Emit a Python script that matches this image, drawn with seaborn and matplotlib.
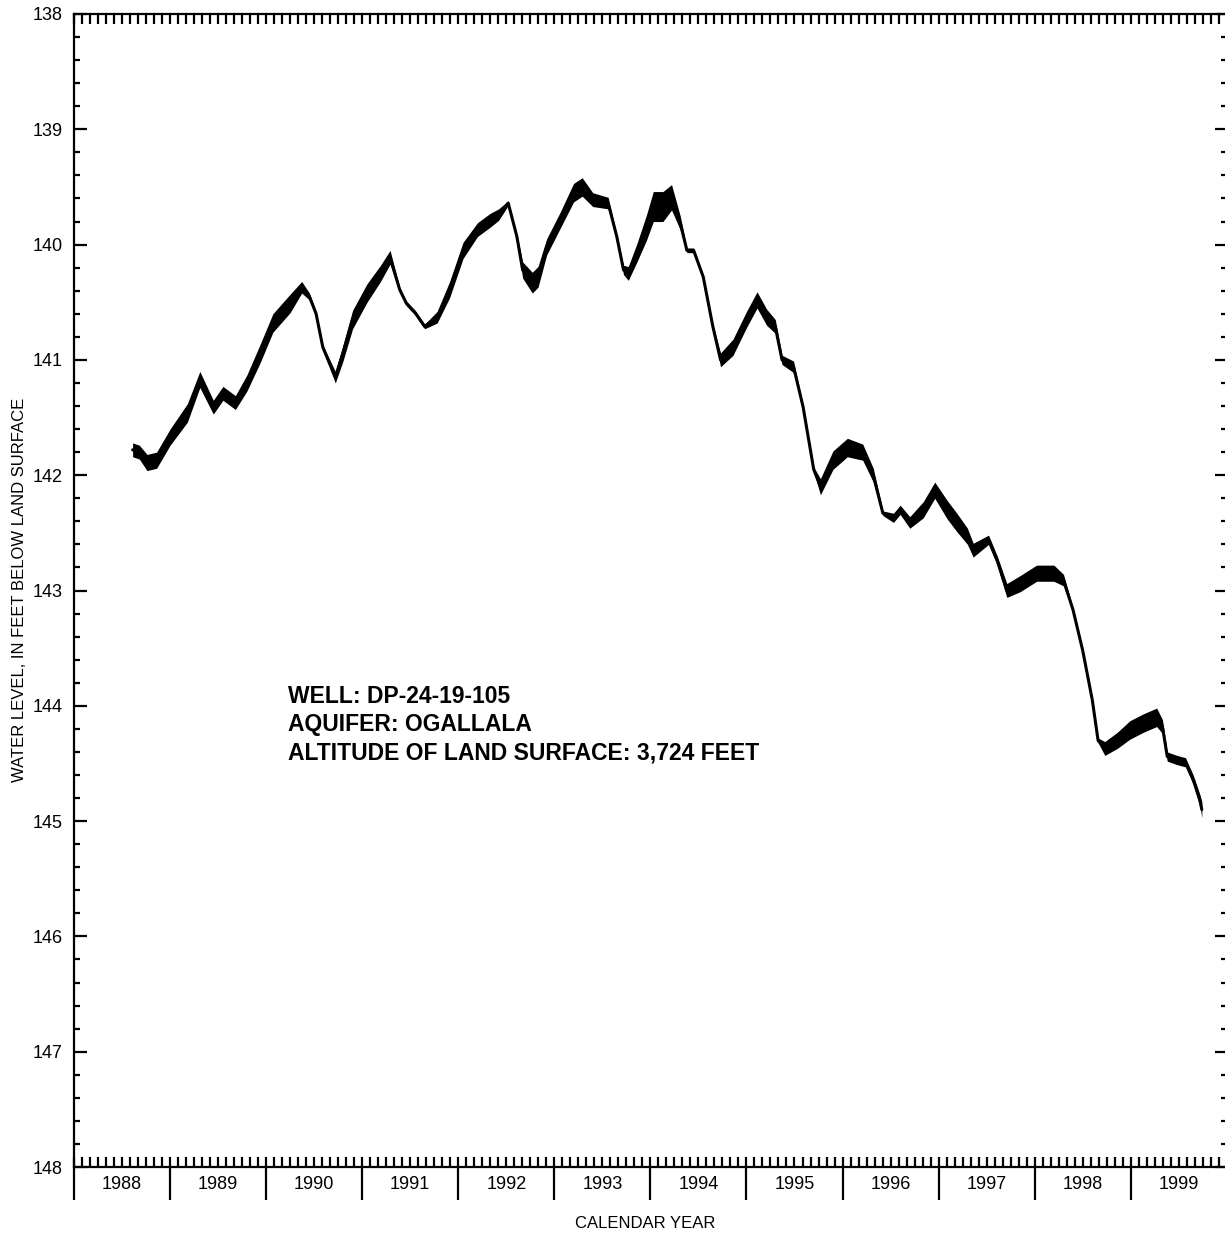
import numpy as np
import matplotlib
matplotlib.use("Agg")
import matplotlib.pyplot as plt
import matplotlib.transforms as mtransforms
import seaborn as sns

YEARS = [1988.61, 1988.68, 1988.76, 1988.86, 1989.00, 1989.18, 1989.31, 1989.45,
         1989.55, 1989.68, 1989.80, 1989.94, 1990.07, 1990.25, 1990.37, 1990.45,
         1990.52, 1990.59, 1990.72, 1990.80, 1990.90, 1991.05, 1991.19, 1991.29,
         1991.39, 1991.46, 1991.55, 1991.65, 1991.78, 1991.91, 1992.05, 1992.20,
         1992.33, 1992.42, 1992.52, 1992.61, 1992.67, 1992.77, 1992.83, 1992.92,
         1993.06, 1993.20, 1993.29, 1993.40, 1993.56, 1993.65, 1993.72, 1993.77,
         1993.86, 1993.96, 1994.03, 1994.13, 1994.22, 1994.31, 1994.38, 1994.45,
         1994.55, 1994.65, 1994.73, 1994.86, 1995.00, 1995.11, 1995.21, 1995.30,
         1995.37, 1995.49, 1995.59, 1995.70, 1995.77, 1995.90, 1996.05, 1996.21,
         1996.32, 1996.42, 1996.53, 1996.60, 1996.70, 1996.84, 1996.96, 1997.09,
         1997.19, 1997.30, 1997.36, 1997.52, 1997.61, 1997.71, 1997.85, 1998.02,
         1998.20, 1998.30, 1998.40, 1998.50, 1998.60, 1998.66, 1998.73, 1998.86,
         1998.99, 1999.13, 1999.27, 1999.33, 1999.38, 1999.48, 1999.57, 1999.65,
         1999.72, 1999.74]
LEVELS = [141.78, 141.80, 141.89, 141.87, 141.67, 141.46, 141.17, 141.41,
          141.29, 141.37, 141.20, 140.94, 140.68, 140.51, 140.37, 140.45,
          140.60, 140.89, 141.15, 140.94, 140.65, 140.42, 140.25, 140.11,
          140.39, 140.51, 140.59, 140.71, 140.63, 140.39, 140.05, 139.87,
          139.79, 139.74, 139.64, 139.93, 140.22, 140.33, 140.28, 140.02,
          139.79, 139.55, 139.50, 139.61, 139.64, 139.93, 140.22, 140.25,
          140.07, 139.85, 139.67, 139.67, 139.59, 139.81, 140.05, 140.05,
          140.28, 140.71, 141.00, 140.89, 140.65, 140.48, 140.63, 140.71,
          141.00, 141.06, 141.41, 141.95, 142.10, 141.87, 141.76, 141.80,
          142.00, 142.33, 142.37, 142.30, 142.41, 142.30, 142.13, 142.30,
          142.41, 142.53, 142.65, 142.56, 142.74, 143.00, 142.94, 142.85,
          142.85, 142.91, 143.17, 143.52, 143.95, 144.30, 144.37, 144.30,
          144.21, 144.15, 144.10, 144.18, 144.44, 144.47, 144.49, 144.64,
          144.82, 144.90]
# half-width of the noisy band around the trace, in feet
SPREAD = [0.06, 0.06, 0.07, 0.07, 0.07, 0.08, 0.07, 0.06,
          0.06, 0.06, 0.07, 0.08, 0.08, 0.08, 0.05, 0.03,
          0.02, 0.02, 0.05, 0.07, 0.08, 0.08, 0.07, 0.06,
          0.02, 0.02, 0.02, 0.02, 0.05, 0.07, 0.07, 0.06,
          0.06, 0.05, 0.02, 0.02, 0.07, 0.09, 0.09, 0.07,
          0.07, 0.08, 0.08, 0.06, 0.05, 0.02, 0.04, 0.06,
          0.08, 0.11, 0.13, 0.13, 0.11, 0.06, 0.02, 0.02,
          0.02, 0.02, 0.06, 0.07, 0.07, 0.07, 0.07, 0.06,
          0.04, 0.05, 0.02, 0.02, 0.07, 0.08, 0.08, 0.07,
          0.06, 0.02, 0.04, 0.04, 0.05, 0.07, 0.07, 0.08,
          0.08, 0.07, 0.06, 0.04, 0.04, 0.06, 0.07, 0.07,
          0.07, 0.05, 0.02, 0.02, 0.02, 0.02, 0.06, 0.07,
          0.08, 0.08, 0.08, 0.06, 0.04, 0.04, 0.04, 0.04,
          0.05, 0.07]

YEAR_LABELS = [str(y) for y in range(1988, 2000)]
INFO_LINES = ["WELL: DP-24-19-105",
              "AQUIFER: OGALLALA",
              "ALTITUDE OF LAND SURFACE: 3,724 FEET"]
# ------------------------------------------------------------------

sns.set_style("white")
plt.rcParams["font.family"] = ["Liberation Sans", "DejaVu Sans"]
plt.rcParams["text.color"] = "black"
plt.rcParams["axes.labelcolor"] = "black"
plt.rcParams["xtick.color"] = "black"
plt.rcParams["ytick.color"] = "black"

fig = plt.figure(figsize=(12.25, 12.34), dpi=100)
ax = fig.add_axes([74 / 1225, 67 / 1234, 1152.8 / 1225, 1153 / 1234])

years = np.array(YEARS)
levels = np.array(LEVELS)
spread = np.array(SPREAD)

ax.fill_between(years, levels - spread, levels + spread, color="black", lw=0)
sns.lineplot(x=years, y=levels, ax=ax, color="black", lw=2.2, estimator=None)

ax.set_xlim(1988, 2000)
ax.set_ylim(148, 138)

for s in ax.spines.values():
    s.set_color("black")
    s.set_linewidth(1.6)

# x: monthly ticks inside, long year-boundary ticks outside
ax.xaxis.remove_overlapping_locs = False
ax.set_xticks(np.arange(1988, 2001, 1))
ax.set_xticks(np.arange(1988, 2000 + 1e-6, 1 / 12), minor=True)
ax.tick_params(axis="x", which="major", direction="out", length=24, width=1.6,
               bottom=True, top=False, labelbottom=False)
ax.tick_params(axis="x", which="minor", direction="in", length=7.5, width=1.6,
               bottom=True, top=True)

trans = mtransforms.blended_transform_factory(ax.transData, ax.transAxes)
for i, lab in enumerate(YEAR_LABELS):
    ax.text(1988 + i + 0.5, -0.0155, lab, transform=trans, ha="center", va="center",
            fontsize=13)

# y: integer ticks long, 0.2 ft ticks short, both sides
ax.set_yticks(np.arange(138, 149, 1))
ax.set_yticks(np.arange(138, 148.01, 0.2), minor=True)
ax.set_yticklabels([str(v) for v in range(138, 149)], fontsize=13)
ax.tick_params(axis="y", which="major", direction="in", length=9, width=1.6,
               left=True, right=True, pad=8)
ax.tick_params(axis="y", which="minor", direction="in", length=4.5, width=1.6,
               left=True, right=True)

fig.text(645 / 1225, 1 - 1223 / 1234, "CALENDAR YEAR", fontsize=12,
         ha="center", va="center")
fig.text(20 / 1225, 1 - 590 / 1234, "WATER LEVEL, IN FEET BELOW LAND SURFACE",
         fontsize=12, rotation=90, ha="center", va="center")

for k, line in enumerate(INFO_LINES):
    ax.text(1990.23, 143.92 + k * 0.243, line, fontsize=16.5, fontweight="bold",
            ha="left", va="center")

fig.savefig("out.png", dpi=100)
